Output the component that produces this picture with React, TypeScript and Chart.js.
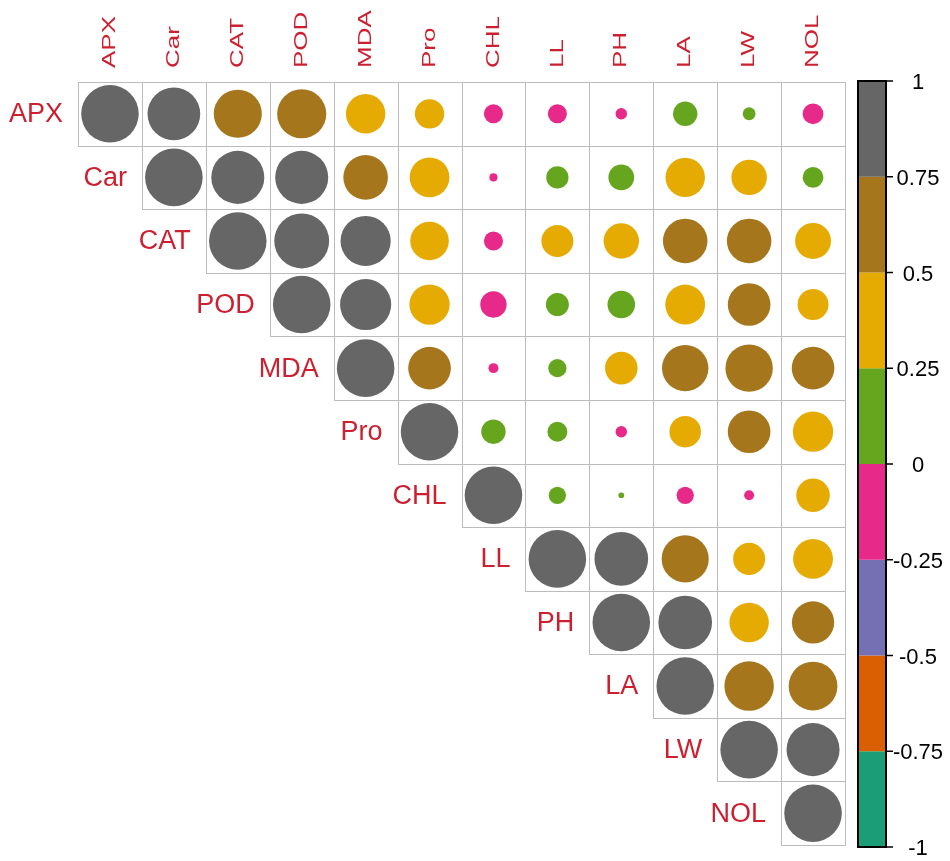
import React, { useEffect, useRef } from "react";
import { Chart, registerables } from "chart.js";

Chart.register(...registerables);

// Variable names (row / column order)
const variables = ["APX", "Car", "CAT", "POD", "MDA", "Pro", "CHL", "LL", "PH", "LA", "LW", "NOL"];

// Upper-triangle correlations; each row starts at its diagonal
const rowAPX = [1, 0.84, 0.70, 0.73, 0.47, 0.26, -0.11, -0.11, -0.04, 0.18, 0.05, -0.13];
const rowCar = [1, 0.85, 0.85, 0.60, 0.48, -0.02, 0.15, 0.20, 0.47, 0.38, 0.13];
const rowCAT = [1, 0.91, 0.76, 0.45, -0.11, 0.31, 0.38, 0.60, 0.60, 0.39];
const rowPOD = [1, 0.79, 0.49, -0.21, 0.16, 0.23, 0.48, 0.55, 0.29];
const rowMDA = [1, 0.55, -0.03, 0.10, 0.32, 0.65, 0.68, 0.55];
const rowPro = [1, 0.18, 0.12, -0.04, 0.30, 0.55, 0.49];
const rowCHL = [1, 0.09, 0.01, -0.09, -0.03, 0.34];
const rowLL = [1, 0.87, 0.67, 0.31, 0.48];
const rowPH = [1, 0.87, 0.47, 0.54];
const rowLA = [1, 0.74, 0.72];
const rowLW = [1, 0.85];
const rowNOL = [1];

const corrRows = [rowAPX, rowCar, rowCAT, rowPOD, rowMDA, rowPro, rowCHL, rowLL, rowPH, rowLA, rowLW, rowNOL];

// Colour bins (Dark2), from -1 to 1 in steps of 0.25
const binColors = ["#1B9E77", "#D95F02", "#7570B3", "#E7298A", "#66A61E", "#E6AB02", "#A6761D", "#666666"];
const colorbarTicks = [-1, -0.75, -0.5, -0.25, 0, 0.25, 0.5, 0.75, 1];

const labelColor = "#cc1f2f";
const fontFamily = "'Liberation Sans', Arial, sans-serif";

function colorFor(v: number): string {
  let idx = Math.floor((v + 1) / 0.25);
  if (idx > 7) idx = 7;
  if (idx < 0) idx = 0;
  return binColors[idx];
}

const points: { x: number; y: number; v: number }[] = [];
corrRows.forEach((row, i) => {
  row.forEach((v, k) => {
    points.push({ x: i + k, y: i, v });
  });
});

const corrPlugin = {
  id: "corrDecor",
  beforeDatasetsDraw(chart: any) {
    const ctx = chart.ctx;
    const xs = chart.scales.x;
    const ys = chart.scales.y;
    const n = variables.length;
    ctx.save();
    ctx.strokeStyle = "#bcbcbc";
    ctx.lineWidth = 1;
    for (let i = 0; i < n; i++) {
      for (let j = i; j < n; j++) {
        const x0 = Math.round(xs.getPixelForValue(j - 0.5)) + 0.5;
        const x1 = Math.round(xs.getPixelForValue(j + 0.5)) + 0.5;
        const y0 = Math.round(ys.getPixelForValue(i - 0.5)) + 0.5;
        const y1 = Math.round(ys.getPixelForValue(i + 0.5)) + 0.5;
        ctx.strokeRect(x0, y0, x1 - x0, y1 - y0);
      }
    }
    ctx.restore();
  },
  afterDraw(chart: any) {
    const ctx = chart.ctx;
    const xs = chart.scales.x;
    const ys = chart.scales.y;
    const area = chart.chartArea;
    ctx.save();
    // Row labels, next to the diagonal
    ctx.fillStyle = labelColor;
    ctx.font = `27px ${fontFamily}`;
    ctx.textAlign = "right";
    ctx.textBaseline = "middle";
    variables.forEach((name, i) => {
      const x = xs.getPixelForValue(i - 0.5) - 15;
      const y = ys.getPixelForValue(i) + 1;
      ctx.fillText(name, x, y);
    });
    // Column labels on top, rotated
    variables.forEach((name, j) => {
      const x = xs.getPixelForValue(j);
      const y = area.top - 14;
      ctx.save();
      ctx.translate(x, y);
      ctx.rotate(-Math.PI / 2);
      ctx.scale(1, 0.72);
      ctx.font = `26px ${fontFamily}`;
      ctx.textAlign = "left";
      ctx.textBaseline = "middle";
      ctx.fillText(name, 0, 0);
      ctx.restore();
    });

    // Colour bar
    const left = 858;
    const right = 886;
    const top = area.top - 1;
    const bottom = area.bottom + 2;
    const toY = (v: number) => bottom - ((v + 1) / 2) * (bottom - top);
    for (let b = 0; b < binColors.length; b++) {
      const yTop = toY(colorbarTicks[b + 1]);
      const yBot = toY(colorbarTicks[b]);
      ctx.fillStyle = binColors[b];
      ctx.fillRect(left, yTop, right - left, yBot - yTop);
    }
    ctx.strokeStyle = "#000";
    ctx.lineWidth = 2;
    ctx.strokeRect(left, top, right - left, bottom - top);
    ctx.lineWidth = 1.5;
    ctx.fillStyle = "#000";
    ctx.font = `22px ${fontFamily}`;
    ctx.textAlign = "center";
    ctx.textBaseline = "middle";
    colorbarTicks.forEach((t) => {
      const y = toY(t);
      ctx.beginPath();
      ctx.moveTo(right, y);
      ctx.lineTo(right + 7, y);
      ctx.stroke();
      ctx.fillText(String(t), 918, y + 2);
    });
    ctx.restore();
  },
};

export default function App() {
  const canvasRef = useRef<HTMLCanvasElement | null>(null);

  useEffect(() => {
    if (!canvasRef.current) return;
    const chart = new Chart(canvasRef.current, {
      type: "scatter",
      data: {
        datasets: [
          {
            data: points as any,
            pointStyle: "circle",
            borderWidth: 0,
            backgroundColor: (c: any) => colorFor(c.raw ? c.raw.v : 0),
            borderColor: (c: any) => colorFor(c.raw ? c.raw.v : 0),
            pointRadius: (c: any) => {
              const xs = c.chart.scales.x;
              if (!xs || !c.raw) return 0;
              const cell = Math.abs(xs.getPixelForValue(1) - xs.getPixelForValue(0));
              return 0.45 * cell * Math.sqrt(Math.abs(c.raw.v));
            },
            pointHoverRadius: (c: any) => {
              const xs = c.chart.scales.x;
              if (!xs || !c.raw) return 0;
              const cell = Math.abs(xs.getPixelForValue(1) - xs.getPixelForValue(0));
              return 0.45 * cell * Math.sqrt(Math.abs(c.raw.v));
            },
          } as any,
        ],
      },
      options: {
        responsive: false,
        animation: false,
        events: [],
        layout: { padding: { left: 78, right: 105, top: 82, bottom: 16 } },
        plugins: { legend: { display: false }, tooltip: { enabled: false } },
        scales: {
          x: { type: "linear", min: -0.5, max: 11.5, display: false },
          y: { type: "linear", min: -0.5, max: 11.5, reverse: true, display: false },
        },
      },
      plugins: [corrPlugin],
    });
    return () => chart.destroy();
  }, []);

  return (
    <div style={{ position: "fixed", left: 0, top: 0, width: 950, height: 861, background: "#fff" }}>
      <canvas ref={canvasRef} width={950} height={861} style={{ display: "block" }} />
    </div>
  );
}
